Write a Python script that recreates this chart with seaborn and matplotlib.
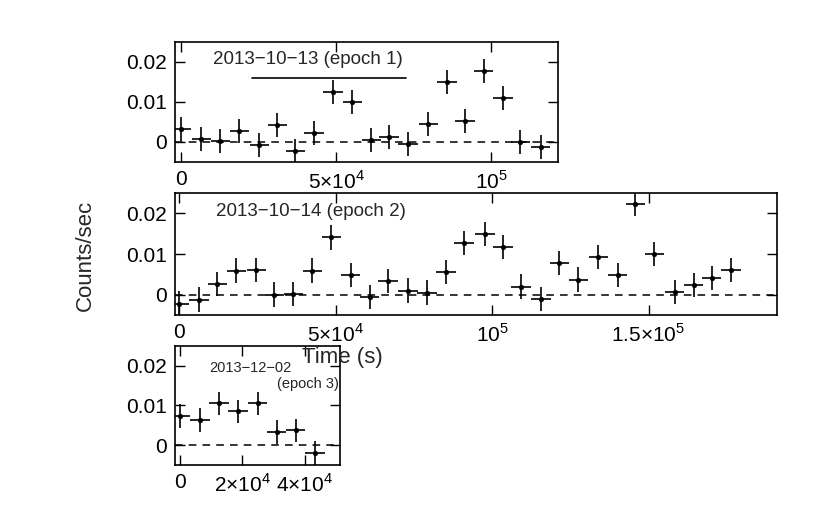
import matplotlib
matplotlib.use("Agg")
import matplotlib.pyplot as plt
import seaborn as sns
import numpy as np

sns.set_theme(style="ticks")
plt.rcParams['font.family'] = ['Liberation Sans', 'DejaVu Sans']
plt.rcParams['mathtext.fontset'] = 'custom'
plt.rcParams['mathtext.rm'] = 'Liberation Sans'

t1 = [0, 6450, 12600, 18700, 25200, 31000, 36800, 42900, 49000, 55200, 61300, 67100,
      73200, 79700, 85800, 91600, 97700, 103900, 109400, 116100]
c1 = [0.0033, 0.0008, 0.0003, 0.0028, -0.0007, 0.0043, -0.0022, 0.0023, 0.0125, 0.0100,
      0.0005, 0.0013, -0.0005, 0.0045, 0.0150, 0.0053, 0.0178, 0.0110, 0.0000, -0.0013]
t2 = [0, 6400, 12200, 18300, 24700, 30400, 36500, 42600, 48700, 54800, 60900, 66700,
      73100, 79200, 85300, 91000, 97800, 103500, 109300, 115700, 121500, 127600, 134000,
      140100, 145800, 151900, 158300, 164400, 170200, 176300]
c2 = [-0.0022, -0.0012, 0.0027, 0.0059, 0.0061, 0.0000, 0.0002, 0.0059, 0.0141, 0.0049,
      -0.0005, 0.0034, 0.0010, 0.0005, 0.0056, 0.0127, 0.0149, 0.0117, 0.0020, -0.0010,
      0.0078, 0.0037, 0.0093, 0.0049, 0.0224, 0.0100, 0.0007, 0.0024, 0.0041, 0.0061]
t3 = [0, 6400, 12500, 18600, 24900, 31000, 37100, 43200]
c3 = [0.0073, 0.0063, 0.0105, 0.0085, 0.0105, 0.0034, 0.0037, -0.0020]
xerr = 3100
yerr = 0.003

fig = plt.figure(figsize=(8.2, 5.29), dpi=100)
ax1 = fig.add_axes([0.2134, 0.6938, 0.467, 0.2268])
ax2 = fig.add_axes([0.2134, 0.4045, 0.734, 0.2306])
ax3 = fig.add_axes([0.2134, 0.121, 0.201, 0.225])

def style(ax, t, c, xlim, xticks, xlabels):
    ax.errorbar(t, c, xerr=xerr, yerr=yerr, fmt='none', ecolor='black',
                elinewidth=1.2, capsize=0)
    sns.scatterplot(x=t, y=c, ax=ax, color='black', s=12, edgecolor='black', zorder=5)
    ax.axhline(0, color='black', ls=(0, (5, 4)), lw=1.1)
    ax.set_xlim(*xlim)
    ax.set_ylim(-0.005, 0.025)
    ax.set_yticks([0, 0.01, 0.02])
    ax.set_yticklabels(['0', '0.01', '0.02'])
    ax.set_xticks(xticks)
    ax.set_xticklabels(xlabels)
    ax.tick_params(direction='in', top=True, right=True, labelsize=15, length=7,
                   width=1, colors='black', pad=6)
    for s in ax.spines.values():
        s.set_linewidth(1.2)
        s.set_color('black')

style(ax1, t1, c1, (-2000, 121600), [0, 50000, 100000],
      ['0', r'5×10$^4$', r'10$^5$'])
style(ax2, t2, c2, (-1300, 191000), [0, 50000, 100000, 150000],
      ['0', r'5×10$^4$', r'10$^5$', r'1.5×10$^5$'])
style(ax3, t3, c3, (-1600, 51200), [0, 20000, 40000],
      ['0', r'2×10$^4$', r'4×10$^4$'])

ax1.plot([22900, 72600], [0.016, 0.016], color='black', lw=1.2)
ax1.text(41000, 0.0205, '2013−10−13 (epoch 1)', ha='center', va='center', fontsize=13.5)
ax2.text(42000, 0.0205, '2013−10−14 (epoch 2)', ha='center', va='center', fontsize=13.5)
ax3.text(22500, 0.0195, '2013−12−02', ha='center', va='center', fontsize=10.5)
ax3.text(51000, 0.0155, '(epoch 3)', ha='right', va='center', fontsize=10.5)

fig.text(85/820, 1 - 255/529, 'Counts/sec', rotation=90, ha='center', va='center', fontsize=16)
fig.text(342/820, 1 - 358/529, 'Time (s)', ha='center', va='center', fontsize=16)

fig.savefig('out.png', dpi=100)
